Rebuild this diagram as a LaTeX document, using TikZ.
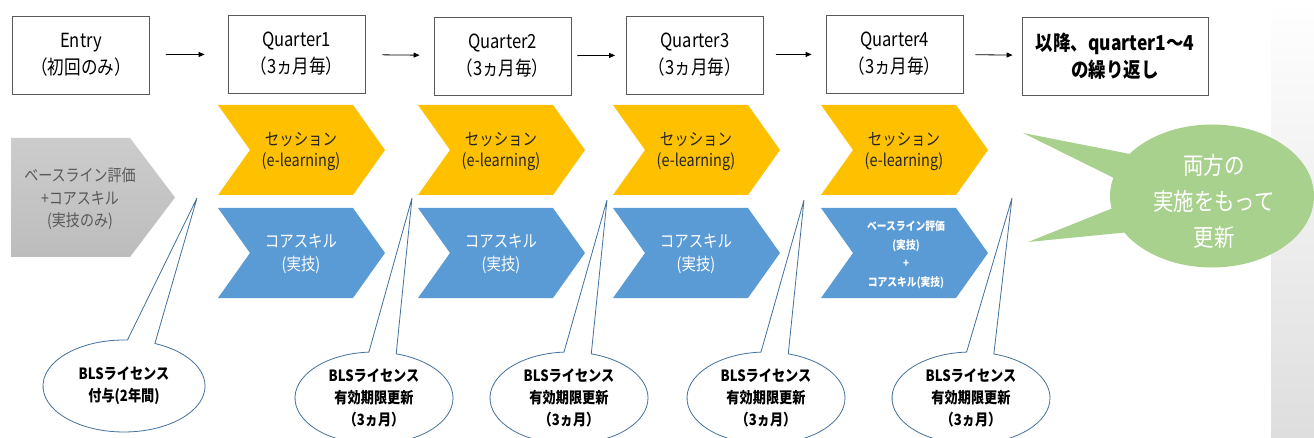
\documentclass[tikz,border=0pt]{standalone}
\usepackage{fontspec}
\setmainfont{Noto Sans CJK JP}[FakeStretch=0.85]
\usetikzlibrary{arrows.meta,shapes.callouts,shapes.geometric}
\definecolor{k1}{HTML}{FFC000}
\definecolor{k2}{HTML}{5B9BD5}
\definecolor{k3}{HTML}{A9D18E}
\definecolor{k4}{HTML}{41719C}
\definecolor{k5}{HTML}{595959}

\begin{document}
\begin{tikzpicture}[x=1pt,y=-1pt,
  box/.style={draw=black!65,line width=0.8pt,minimum width=137pt,minimum height=78pt,inner sep=0pt,align=center,font=\fontsize{19.5}{27}\selectfont},
  flow/.style={-{Triangle[length=6pt,width=5pt]},line width=0.8pt,shorten <=12pt,shorten >=12pt},
  txt/.style={align=center,inner sep=0pt},
  bls/.style={ellipse callout,draw=k4,line width=0.8pt,fill=white,minimum width=158pt,minimum height=92pt,callout pointer arc=20,inner sep=0pt,align=center,font=\bfseries\fontsize{15.5}{22}\selectfont}]
\fill[white] (0,0) rectangle (1314,438);
\useasboundingbox (0,0) rectangle (1314,438);
\shade[top color=white,middle color=black!6,bottom color=black!13] (1271,0) rectangle (1314,438);

% top row
\node[box] (en) at (81,55) {Entry\\（初回のみ）};
\node[box] (qa) at (296.5,54) {Quarter1\\（3ヵ月毎）};
\node[box] (qb) at (502.5,56) {Quarter2\\（3ヵ月毎）};
\node[box] (qc) at (695,55) {Quarter3\\（3ヵ月毎）};
\node[box] (qd) at (894.5,54) {Quarter4\\（3ヵ月毎）};
\node[box,minimum width=186pt,font=\bfseries\fontsize{20.5}{27}\selectfont] (rp) at (1115,56) {以降、quarter1～4\\の繰り返し};
\draw[flow,shorten <=16pt,shorten >=23pt] (en) -- (qa);
\draw[flow,shorten <=17pt,shorten >=14pt] (qa) -- (qb);
\draw[flow,shorten <=6pt,shorten >=11pt] (qb) -- (qc);
\draw[flow,shorten >=14pt] (qc) -- (qd);
\draw[flow,shorten >=9pt] (qd) -- (rp);

% chevrons
\shade[top color=black!20,bottom color=black!26] (11,138) -- (130,138) -- (175,197.5) -- (130,257) -- (11,257) -- cycle;
\node[txt,text=k5,font=\fontsize{16.5}{22.5}\selectfont] (gy) at (80,199) {ベースライン評価\\+コアスキル\\(実技のみ)};
\foreach \x/\n in {218/1,418/2,613/3,821/4}{
  \fill[k1] (\x,105) -- ++(135,0) -- ++(32,45) -- ++(-32,45) -- ++(-135,0) -- ++(32,-45) -- cycle;
  \fill[k2] (\x,208) -- ++(135,0) -- ++(32,45) -- ++(-32,45) -- ++(-135,0) -- ++(32,-45) -- cycle;
  \node[txt,text=black!85,font=\fontsize{17}{21}\selectfont] (s\n) at (\x+83,152) {セッション\\(e-learning)};
}
\foreach \x/\n in {218/1,418/2,613/3}
  \node[txt,text=white,font=\fontsize{17}{23}\selectfont] (c\n) at (\x+83,254) {コアスキル\\(実技)};
\node[txt,text=white,font=\bfseries\fontsize{11.5}{18.5}\selectfont] (c4) at (906,255) {ベースライン評価\\(実技)\\+\\コアスキル(実技)};

% license callouts
\coordinate (t0) at (197,198);
\coordinate (t1) at (412,198);
\coordinate (t2) at (607,200);
\coordinate (t3) at (804,200);
\coordinate (t4) at (1012,198);
\node[bls,callout absolute pointer={(t0)},minimum width=162pt] (b0) at (124,386) {BLSライセンス\\付与(2年間)};
\node[bls,callout absolute pointer={(t1)}] (b1) at (374,398) {BLSライセンス\\有効期限更新\\（3ヵ月）};
\node[bls,callout absolute pointer={(t2)}] (b2) at (569,398) {BLSライセンス\\有効期限更新\\（3ヵ月）};
\node[bls,callout absolute pointer={(t3)}] (b3) at (766,398) {BLSライセンス\\有効期限更新\\（3ヵ月）};
\node[bls,callout absolute pointer={(t4)}] (b4) at (971,398) {BLSライセンス\\有効期限更新\\（3ヵ月）};

% renewal bubble
\node[ellipse,fill=k3,minimum width=204pt,minimum height=143pt,inner sep=0pt] (gr) at (1212,196) {};
\fill[k3] (1135,155) -- (1023,133) -- (1118,180) -- cycle;
\fill[k3] (1118,206) -- (1028,242) -- (1130,232) -- cycle;
\node[txt,text=white,font=\fontsize{24}{36}\selectfont] (gt) at (1214,201) {両方の\\実施をもって\\更新};
\end{tikzpicture}
\end{document}
